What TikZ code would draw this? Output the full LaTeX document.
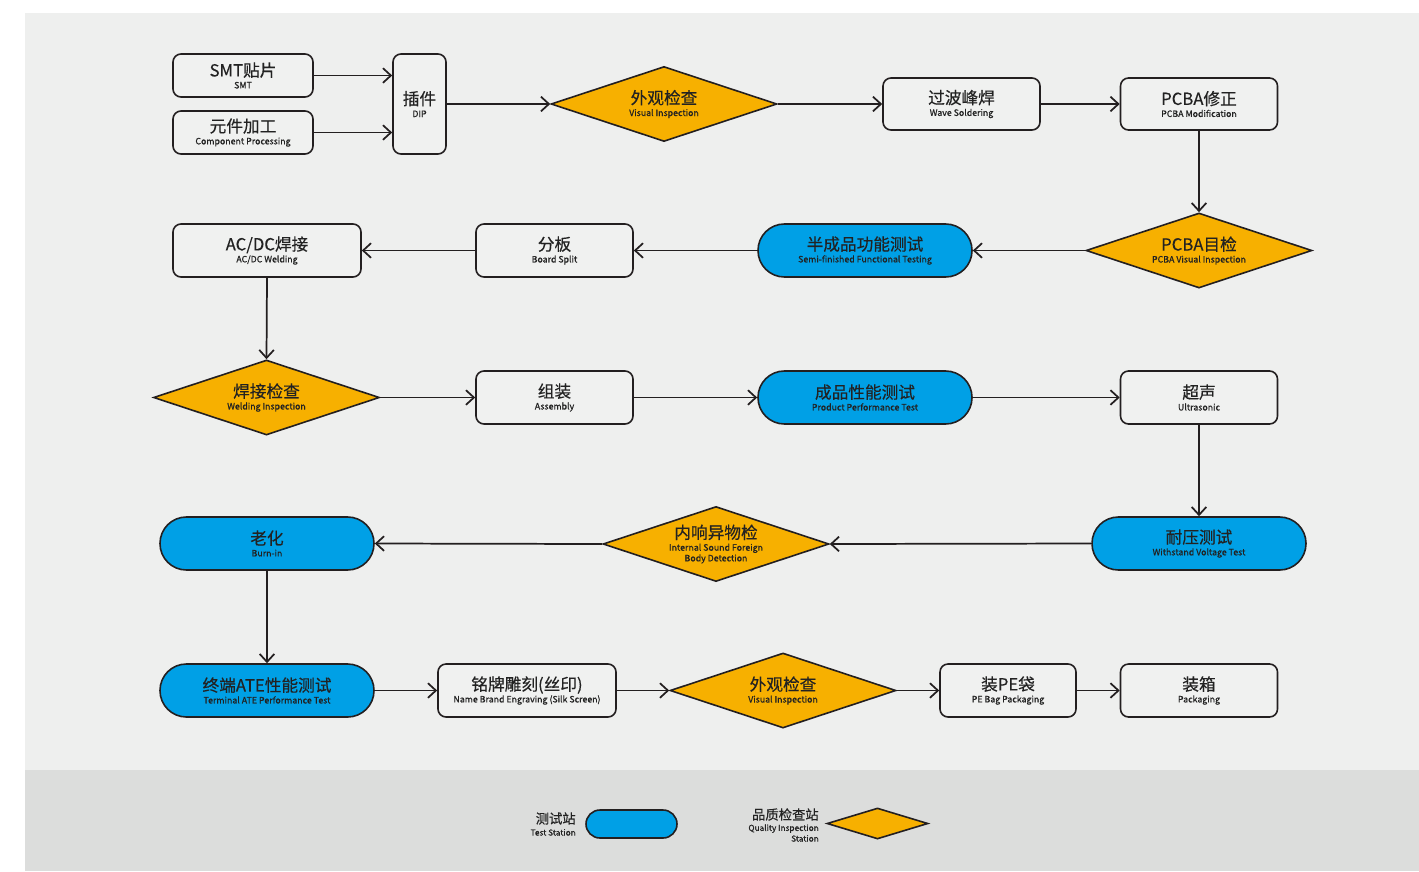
\documentclass[tikz,border=0pt]{standalone}
\usepackage{fontspec}
\setmainfont{Noto Sans CJK SC}
\newfontfamily\mainf[FakeBold=0.4]{Noto Sans CJK SC}
\newfontfamily\subf[FakeBold=0.8]{Noto Sans CJK SC}
\usetikzlibrary{shapes.geometric,arrows.meta}
\definecolor{bgc}{HTML}{EEEFEE}
\definecolor{legc}{HTML}{DCDDDC}
\definecolor{boxc}{HTML}{F0F1F0}
\definecolor{bluec}{HTML}{00A0E6}
\definecolor{orac}{HTML}{F7B000}
\definecolor{linec}{HTML}{231F20}
\definecolor{mainc}{HTML}{222222}
\newcommand{\mt}[1]{{\mainf\fontsize{12.5pt}{13pt}\selectfont #1}}
\newcommand{\st}[1]{{\subf\fontsize{6.6pt}{7pt}\selectfont #1}}
\newcommand{\tl}[2]{\mt{#1}\\[-3pt]\st{#2}}
\tikzset{
  base/.style={draw=linec, line width=1.2pt, align=center, inner sep=0pt, text=mainc},
  boxn/.style={base, fill=boxc, rectangle, rounded corners=6pt},
  pill/.style={base, fill=bluec, rectangle, rounded corners=19.8pt, minimum width=160.5pt, minimum height=39.75pt},
  dia/.style={base, fill=orac, diamond, aspect=3, minimum width=169.5pt, minimum height=56.25pt},
  conn/.style={draw=linec, line width=1.3pt, -{Straight Barb[length=6pt,width=11pt,line width=1.3pt]}},
}
\begin{document}
\begin{tikzpicture}[x=0.75pt,y=-0.75pt]
\useasboundingbox (0,0) rectangle (1419,871);
\fill[white] (0,0) rectangle (1419,871);
\fill[bgc] (25,13) rectangle (1419,770);
\fill[legc] (25,770) rectangle (1419,871);

% row 1
\node[boxn, minimum width=105pt, minimum height=32.25pt] (smt) at (243,75.5) {\tl{SMT贴片}{SMT}};
\node[boxn, minimum width=105pt, minimum height=32.25pt] (comp) at (243,132.5) {\tl{元件加工}{Component Processing}};
\node[boxn, minimum width=39.75pt, minimum height=75pt] (dip) at (419.5,104) {\tl{插件}{DIP}};
\node[dia] (vis1) at (664,104) {\tl{外观检查}{Visual Inspection}};
\node[boxn, minimum width=117.75pt, minimum height=39pt] (wave) at (961.5,104) {\tl{过波峰焊}{Wave Soldering}};
\node[boxn, minimum width=117.75pt, minimum height=39pt] (pcbam) at (1199,104) {\tl{PCBA修正}{PCBA Modification}};

% row 2
\node[dia] (pcbav) at (1199,250.5) {\tl{PCBA目检}{PCBA Visual Inspection}};
\node[pill] (semi) at (865,250.5) {\tl{半成品功能测试}{Semi-finished Functional Testing}};
\node[boxn, minimum width=117.75pt, minimum height=39.75pt] (split) at (554.5,250.5) {\tl{分板}{Board Split}};
\node[boxn, minimum width=141pt, minimum height=39.75pt] (acdc) at (267,250.5) {\tl{AC/DC焊接}{AC/DC Welding}};

% row 3
\node[dia] (weld) at (266.5,397.5) {\tl{焊接检查}{Welding Inspection}};
\node[boxn, minimum width=117.75pt, minimum height=39.75pt] (asm) at (554.5,397.5) {\tl{组装}{Assembly}};
\node[pill] (prod) at (865,397.5) {\tl{成品性能测试}{Product Performance Test}};
\node[boxn, minimum width=117.75pt, minimum height=39.75pt] (ultra) at (1199,397.5) {\tl{超声}{Ultrasonic}};

% row 4
\node[pill] (withs) at (1199,543.5) {\tl{耐压测试}{Withstand Voltage Test}};
\node[dia] (inner) at (716,544) {\mt{内响异物检}\\[-3pt]\st{Internal Sound Foreign}\\[-4pt]\st{Body Detection}};
\node[pill] (burn) at (267,543.5) {\tl{老化}{Burn-in}};

% row 5
\node[pill] (ate) at (267,690.5) {\tl{终端ATE性能测试}{Terminal ATE Performance Test}};
\node[boxn, minimum width=133.5pt, minimum height=39.75pt] (name) at (527,690.5) {\tl{铭牌雕刻(丝印)}{Name Brand Engraving (Silk Screen)}};
\node[dia] (vis2) at (783,690.5) {\tl{外观检查}{Visual Inspection}};
\node[boxn, minimum width=102pt, minimum height=39.75pt] (pe) at (1008,690.5) {\tl{装PE袋}{PE Bag Packaging}};
\node[boxn, minimum width=117.75pt, minimum height=39.75pt] (pack) at (1199,690.5) {\tl{装箱}{Packaging}};

% connectors
\draw[conn] (smt.east) -- (smt.east -| dip.west);
\draw[conn] (comp.east) -- (comp.east -| dip.west);
\draw[conn] (dip.east) -- (vis1.west);
\draw[conn] (vis1.east) -- (wave.west);
\draw[conn] (wave.east) -- (pcbam.west);
\draw[conn] (pcbam.south) -- (pcbav.north);
\draw[conn] (pcbav.west) -- (semi.east);
\draw[conn] (semi.west) -- (split.east);
\draw[conn] (split.west) -- (acdc.east);
\draw[conn] (acdc.south) -- (weld.north);
\draw[conn] (weld.east) -- (asm.west);
\draw[conn] (asm.east) -- (prod.west);
\draw[conn] (prod.east) -- (ultra.west);
\draw[conn] (ultra.south) -- (withs.north);
\draw[conn] (withs.west) -- (inner.east);
\draw[conn] (inner.west) -- (burn.east);
\draw[conn] (burn.south) -- (ate.north);
\draw[conn] (ate.east) -- (name.west);
\draw[conn] (name.east) -- (vis2.west);
\draw[conn] (vis2.east) -- (pe.west);
\draw[conn] (pe.east) -- (pack.west);

% legend
\node[base, fill=bluec, rectangle, rounded corners=10.5pt, minimum width=68.25pt, minimum height=21pt] (legpill) at (631.5,824) {};
\node[anchor=east, align=right, inner sep=0pt, text=mainc] (legpilltxt) at (576,824) {{\mainf\fontsize{10pt}{11pt}\selectfont 测试站}\\[-3pt]{\subf\fontsize{6.2pt}{7pt}\selectfont Test Station}};
\node[base, fill=orac, diamond, aspect=3.2, minimum width=75.75pt, minimum height=23.25pt] (legdia) at (877.5,823.5) {};
\node[anchor=east, align=right, inner sep=0pt, text=mainc] (legdiatxt) at (819,825) {{\mainf\fontsize{10pt}{11pt}\selectfont 品质检查站}\\[-3.5pt]{\subf\fontsize{6.2pt}{7pt}\selectfont Quality Inspection}\\[-4pt]{\subf\fontsize{6.2pt}{7pt}\selectfont Station}};
\end{tikzpicture}
\end{document}
